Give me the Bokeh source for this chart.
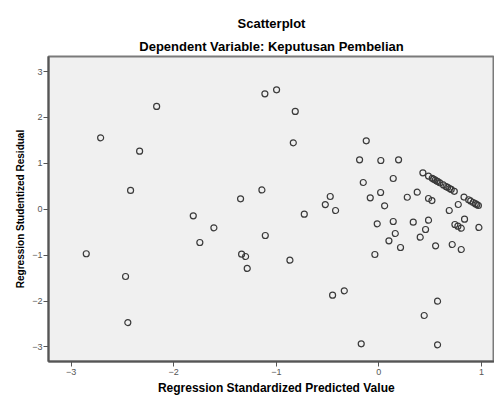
from bokeh.plotting import figure
from bokeh.models import Range1d, FixedTicker, Title, LinearAxis
from bokeh.embed import file_html
from bokeh.resources import INLINE

title_main = "Scatterplot"
title_sub = "Dependent Variable: Keputusan Pembelian"
x_label = "Regression Standardized Predicted Value"
y_label = "Regression Studentized Residual"
x_ticks = [-3, -2, -1, 0, 1]
y_ticks = [-3, -2, -1, 0, 1, 2, 3]

predicted = [
    -2.852, -2.712, -2.469, -2.447, -2.420, -2.332, -2.166, -1.809, -1.745, -1.608,
    -1.348, -1.338, -1.299, -1.283, -1.140, -1.111, -1.107, -0.997, -0.867, -0.834,
    -0.815, -0.727, -0.522, -0.474, -0.451, -0.422, -0.337, -0.188, -0.172, -0.152,
    -0.123, -0.084, -0.039, -0.016, 0.017, 0.019, 0.056, 0.098, 0.140, 0.140,
    0.160, 0.192, 0.211, 0.277, 0.335, 0.374, 0.403, 0.442, 0.455, 0.484,
    0.484, 0.517, 0.553, 0.572, 0.572, 0.686, 0.715, 0.741, 0.770, 0.774,
    0.803, 0.803, 0.835, 0.975,
    0.429, 0.484, 0.520, 0.535, 0.550, 0.565, 0.575, 0.595, 0.630, 0.655,
    0.670, 0.690, 0.705, 0.735, 0.830, 0.875, 0.895, 0.920, 0.940, 0.955, 0.970,
]
residual = [
    -0.970, 1.556, -1.466, -2.470, 0.410, 1.264, 2.240, -0.144, -0.725, -0.405,
    0.226, -0.980, -1.030, -1.290, 0.420, 2.514, -0.573, 2.600, -1.110, 1.447,
    2.130, -0.109, 0.100, 0.277, -1.874, -0.028, -1.778, 1.076, -2.933, 0.582,
    1.490, 0.248, -0.987, -0.318, 0.364, 1.061, 0.074, -0.689, 0.669, -0.268,
    -0.529, 1.076, -0.834, 0.261, -0.283, 0.370, -0.610, -2.316, -0.442, 0.233,
    -0.240, 0.189, -0.798, -2.004, -2.954, -0.028, -0.769, -0.333, -0.370, 0.102,
    -0.414, -0.878, -0.218, -0.398,
    0.793, 0.721, 0.673, 0.653, 0.634, 0.614, 0.601, 0.574, 0.528, 0.495,
    0.476, 0.449, 0.430, 0.390, 0.265, 0.206, 0.180, 0.146, 0.120, 0.100, 0.081,
]

FONT = "Liberation Sans"

p = figure(width=494, height=397, output_backend="svg", toolbar_location=None,
           x_range=Range1d(-3.22, 1.127), y_range=Range1d(-3.318, 3.327),
           title=None, min_border_left=48, min_border_right=0,
           min_border_top=56, min_border_bottom=36)

p.background_fill_color = "#f0f0f0"
p.border_fill_color = "white"
p.outline_line_color = "#7a7a7a"
p.outline_line_width = 2
p.xgrid.visible = False
p.ygrid.visible = False

p.add_layout(Title(text=title_sub, align="center", text_font=FONT, text_font_size="13px",
                   text_font_style="bold", text_color="black", standoff=5), "above")
p.add_layout(Title(text=title_main, align="center", text_font=FONT, text_font_size="13px",
                   text_font_style="bold", text_color="black", standoff=7), "above")

for ax, ticks in ((p.xaxis[0], x_ticks), (p.yaxis[0], y_ticks)):
    ax.ticker = FixedTicker(ticks=ticks)
    ax.axis_label_text_font = FONT
    ax.axis_label_text_font_style = "bold"
    ax.axis_label_text_color = "black"
    ax.major_label_text_font = FONT
    ax.major_label_text_font_size = "9px"
    ax.major_label_text_color = "#555555"
    ax.axis_line_color = "#555555"
    ax.axis_line_width = 2
    ax.major_tick_line_color = "#555555"
    ax.major_tick_in = 0
    ax.major_tick_out = 5
    ax.minor_tick_line_color = None

p.xaxis[0].major_label_standoff = 2
p.yaxis[0].major_label_standoff = 1
p.yaxis[0].axis_label = y_label
p.yaxis[0].axis_label_text_font_size = "10px"
p.yaxis[0].axis_label_standoff = 3

# x-axis title drawn as the single label of a bare second axis, centred at x = -1
title_axis = LinearAxis(ticker=FixedTicker(ticks=[-1]),
                        major_label_overrides={-1: x_label},
                        axis_line_color=None, major_tick_line_color=None,
                        minor_tick_line_color=None, major_tick_out=0, major_tick_in=0,
                        major_label_standoff=3, major_label_text_font=FONT,
                        major_label_text_font_size="12px",
                        major_label_text_font_style="bold",
                        major_label_text_color="black")
p.add_layout(title_axis, "below")

p.scatter(predicted, residual, marker="circle", size=6, fill_color=None,
          line_color="#3a3a3a", line_width=1.2)

open("out.html", "w").write(file_html(p, INLINE))
